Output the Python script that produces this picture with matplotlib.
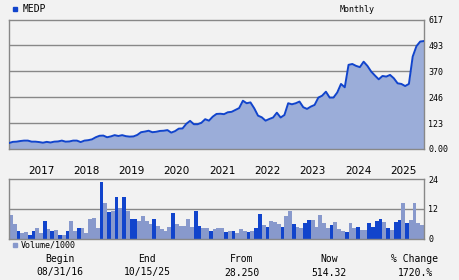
import numpy as np
import matplotlib.pyplot as plt

# MEDP monthly chart, 08/31/16 .. 10/15/25
ticker = 'MEDP'
period = 'Monthly'

# month-end closes (index 0 = Aug 2016)
price = [28.3, 34, 35, 38, 40, 40, 35, 35, 33, 30, 34, 31, 35, 36, 40, 35, 36, 40, 40, 33,
         40, 42, 46, 56, 63, 64, 56, 60, 66, 62, 66, 61, 59, 60, 67, 80, 83, 87, 80, 82,
         86, 87, 90, 78, 85, 97, 98, 120, 134, 118, 118, 125, 142, 135, 154, 167, 168, 166, 175, 177,
         186, 195, 230, 218, 222, 194, 159, 151, 135, 143, 150, 173, 150, 162, 218, 213, 218, 226, 199, 191,
         202, 210, 245, 254, 273, 245, 245, 269, 310, 294, 401, 405, 396, 390, 416, 396, 369, 350, 332, 348,
         345, 353, 337, 313, 310, 300, 310, 440, 490, 512, 514.32]

# volume / 1000 per month
volume = [9.6, 5.9, 3.1, 2.2, 2.6, 1.5, 3.1, 4.3, 2.2, 7.1, 3.9, 3.1, 3.5, 1.5, 1.5, 3.1, 7.1, 3.1, 4.3, 4.3,
          2.3, 8.0, 8.4, 4.3, 22.9, 14.4, 10.8, 11.2, 16.8, 12.4, 16.8, 11.2, 8.0, 8.0, 7.1, 9.1, 7.1, 5.9, 8.0, 5.1,
          3.9, 3.1, 4.7, 10.4, 5.9, 5.1, 5.1, 8.0, 4.7, 11.2, 5.1, 4.3, 4.3, 3.1, 3.9, 4.3, 4.3, 2.7, 3.1,
          3.1, 2.3, 3.9, 3.1, 2.7, 3.1, 4.3, 9.9, 5.5, 4.7, 7.1, 6.7, 5.9, 4.7, 9.1, 11.2, 5.9, 4.7, 4.3, 6.3,
          7.5, 7.5, 4.7, 9.5, 6.3, 4.3, 5.5, 6.7, 3.9, 3.1, 2.7, 6.3, 4.3, 4.7, 3.5, 3.5, 6.3, 4.7, 7.1, 8.0,
          6.7, 4.3, 3.5, 6.7, 7.5, 14.4, 6.3, 7.5, 14.4, 6.3, 5.5]
# 1 = up month (dark bar), 0 = down month (light bar)
up = [0, 0, 1, 0, 0, 1, 1, 0, 0, 1, 0, 1, 0, 1, 0, 1, 0, 0, 1, 0,
      0, 0, 0, 0, 1, 0, 1, 0, 1, 0, 1, 0, 1, 1, 0, 0, 0, 0, 1, 0,
      0, 0, 0, 1, 0, 0, 0, 0, 0, 1, 1, 0, 0, 1, 0, 0, 0, 1, 0,
      1, 0, 0, 0, 1, 0, 1, 1, 0, 1, 0, 0, 0, 1, 0, 0, 1, 0, 0, 1,
      1, 0, 0, 0, 0, 0, 1, 0, 0, 0, 1, 0, 0, 1, 0, 0, 1, 1, 1, 1,
      0, 1, 0, 1, 1, 0, 1, 0, 0, 0, 0]

years = [2017, 2018, 2019, 2020, 2021, 2022, 2023, 2024, 2025]
price_ticks = [0, 123.4, 246.8, 370.2, 493.6, 617]
price_labels = ['0.00', '123', '246', '370', '493', '617']
vol_ticks = [0, 12, 24]

summary_head = ['Begin', 'End', 'From', 'Now', '% Change']
summary_vals = ['08/31/16', '10/15/25', '28.250', '514.32', '1720.%']

bg = '#f2f2f2'
dark = '#1144cc'
light = '#8899cc'
fill = '#9badd9'
grid = '#888888'
mono = 'DejaVu Sans Mono'

W, H = 460, 280
fig = plt.figure(figsize=(W / 100, H / 100), dpi=100, facecolor=bg)

def box(x0, y0, x1, y1):
    # pixel box (top-left origin) -> figure fraction
    return [x0 / W, 1 - y1 / H, (x1 - x0) / W, (y1 - y0) / H]

# ---- price panel
ax = fig.add_axes(box(9, 19.5, 424, 149))
ax.set_facecolor(bg)
m = np.arange(len(price))
ax.fill_between(m, price, 0, color=fill, lw=0, zorder=2)
ax.plot(m, price, color=dark, lw=1.4, zorder=3)
ax.set_xlim(0, len(price) - 1)
ax.set_ylim(0, 617)
for t in price_ticks[1:-1]:
    ax.axhline(t, color=grid, lw=1, zorder=1)
ax.yaxis.tick_right()
ax.set_yticks(price_ticks)
ax.set_yticklabels(price_labels, family=mono, fontsize=6)
year_pos = [(y - 2017) * 12 + 5 for y in years]
ax.set_xticks(year_pos)
ax.set_xticklabels([str(y) for y in years], fontsize=7.5, ha='left')
ax.tick_params(length=0, pad=3)
ax.tick_params(axis='x', pad=12)
for s in ax.spines.values():
    s.set_color(grid)
    s.set_linewidth(1)

# ---- volume panel
av = fig.add_axes(box(9, 179.3, 424, 238.7))
av.set_facecolor(bg)
cols = [dark if u else light for u in up]
av.bar(np.arange(len(volume)), volume, width=1.0, align='edge', color=cols, zorder=2)
av.axhline(12, color=grid, lw=1, zorder=1)
av.set_xlim(0, len(price) - 1)
av.set_ylim(0, 24)
av.yaxis.tick_right()
av.set_yticks(vol_ticks)
av.set_yticklabels([str(v) for v in vol_ticks], family=mono, fontsize=6)
av.set_xticks([])
av.tick_params(length=0, pad=3)
for s in av.spines.values():
    s.set_color(grid)
    s.set_linewidth(1)

# ---- labels around the chart
def px(x, y):
    return x / W, 1 - y / H

fig.patches.append(plt.Rectangle(px(13, 11), 4 / W, 4 / H, color=dark, transform=fig.transFigure))
fig.text(*px(23, 9), ticker, family=mono, fontsize=7, va='center')
fig.text(*px(357, 9), period, family=mono, fontsize=6, va='center', ha='center')

fig.patches.append(plt.Rectangle(px(13, 247), 4 / W, 4 / H, color=light, transform=fig.transFigure))
fig.text(*px(21, 245), 'Volume/1000', family=mono, fontsize=6, va='center')

xs = [60, 147, 242, 329, 415]
for x, h, v in zip(xs, summary_head, summary_vals):
    fig.text(*px(x, 259), h, family=mono, fontsize=7, ha='center', va='center')
    fig.text(*px(x, 272.5), v, family=mono, fontsize=7, ha='center', va='center')

fig.savefig('out.png', dpi=100, facecolor=bg)
